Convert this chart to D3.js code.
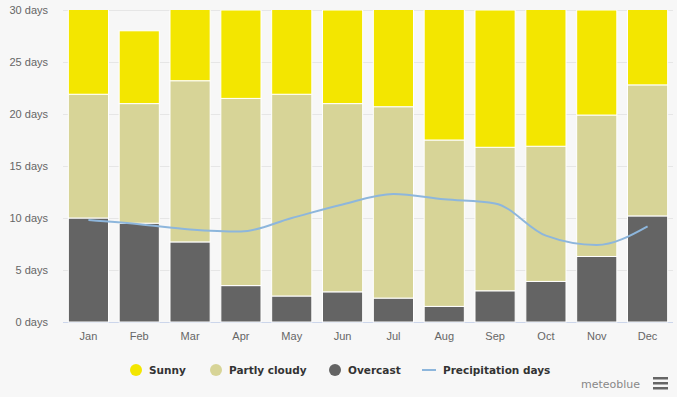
<!DOCTYPE html>
<html>
<head>
<meta charset="utf-8">
<script src="https://cdn.jsdelivr.net/npm/d3@7/dist/d3.min.js"></script>
<style>
  body { margin: 0; background: #f7f7f7; }
  svg { display: block; font-family: "DejaVu Sans", Verdana, sans-serif; }
</style>
</head>
<body>
<div id="chart"></div>
<script>
// Chart values
var months = ["Jan", "Feb", "Mar", "Apr", "May", "Jun", "Jul", "Aug", "Sep", "Oct", "Nov", "Dec"];
var overcast = [10.0, 9.5, 7.7, 3.5, 2.5, 2.9, 2.3, 1.5, 3.0, 3.9, 6.3, 10.2];
var partlyCloudy = [11.9, 11.5, 15.5, 18.0, 19.4, 18.1, 18.4, 16.0, 13.8, 13.0, 13.6, 12.6];
var sunny = [9.1, 7.0, 7.8, 8.5, 9.1, 9.0, 10.3, 13.5, 13.2, 14.1, 10.1, 8.2];
var precipitation = [9.8, 9.4, 8.9, 8.7, 10.0, 11.3, 12.3, 11.8, 11.4, 8.3, 7.4, 9.2];
var yTicks = [0, 5, 10, 15, 20, 25, 30];

var svgWidth = 677;
var svgHeight = 397;

var chartMargin = { top: 10, right: 4, bottom: 75, left: 63 };
var chartWidth = svgWidth - chartMargin.left - chartMargin.right;
var chartHeight = svgHeight - chartMargin.top - chartMargin.bottom;

var svg = d3.select("#chart")
  .append("svg")
  .attr("width", svgWidth)
  .attr("height", svgHeight);

svg.append("rect")
  .attr("width", svgWidth)
  .attr("height", svgHeight)
  .attr("fill", "#f7f7f7");

svg.append("defs").append("clipPath")
  .attr("id", "plotClip")
  .append("rect")
  .attr("width", chartWidth)
  .attr("height", chartHeight + 1);

var chartGroup = svg.append("g")
  .attr("transform", `translate(${chartMargin.left}, ${chartMargin.top})`);

var xScale = d3.scaleBand()
  .domain(months)
  .range([0, chartWidth])
  .paddingInner(0.21)
  .paddingOuter(0.105);

var yScale = d3.scaleLinear()
  .domain([0, 30])
  .range([chartHeight, 0]);

// gridlines
chartGroup.append("g")
  .selectAll("line")
  .data(yTicks)
  .enter()
  .append("line")
  .attr("x1", 0)
  .attr("x2", chartWidth)
  .attr("y1", d => Math.round(yScale(d)) + 0.5)
  .attr("y2", d => Math.round(yScale(d)) + 0.5)
  .attr("stroke", d => d === 0 ? "#ccd6eb" : "#e6e6e6")
  .attr("stroke-width", 1);

// y axis labels
var leftAxis = d3.axisLeft(yScale)
  .tickValues(yTicks)
  .tickSize(0)
  .tickPadding(15)
  .tickFormat(d => d + " days");
var yAxisG = chartGroup.append("g").call(leftAxis);
yAxisG.select(".domain").remove();
yAxisG.selectAll("text")
  .attr("fill", "#666")
  .style("font-size", "11px");

// x axis labels
var bottomAxis = d3.axisBottom(xScale).tickSize(0).tickPadding(10);
var xAxisG = chartGroup.append("g")
  .attr("transform", `translate(0, ${chartHeight})`)
  .call(bottomAxis);
xAxisG.select(".domain").remove();
xAxisG.selectAll("text")
  .attr("fill", "#666")
  .style("font-size", "11px");

// stacked bars
var table = months.map(function(m, i) {
  return { month: m, overcast: overcast[i], partly: partlyCloudy[i], sunny: sunny[i] };
});
var stack = d3.stack().keys(["overcast", "partly", "sunny"]);
var series = stack(table);
var colors = { overcast: "#646464", partly: "#d7d497", sunny: "#f3e600" };

var barsGroup = chartGroup.append("g").attr("clip-path", "url(#plotClip)");
barsGroup.selectAll("g")
  .data(series)
  .enter()
  .append("g")
  .attr("fill", d => colors[d.key])
  .selectAll("rect")
  .data(d => d)
  .enter()
  .append("rect")
  .attr("x", d => xScale(d.data.month))
  .attr("y", d => yScale(d[1]))
  .attr("width", xScale.bandwidth())
  .attr("height", d => yScale(d[0]) - yScale(d[1]))
  .attr("stroke", "#ffffff")
  .attr("stroke-width", 1);

// precipitation line
var line = d3.line()
  .x((d, i) => xScale(months[i]) + xScale.bandwidth() / 2)
  .y(d => yScale(d))
  .curve(d3.curveMonotoneX);

chartGroup.append("path")
  .datum(precipitation)
  .attr("d", line)
  .attr("fill", "none")
  .attr("stroke", "#8db6dc")
  .attr("stroke-width", 2);

// legend
var legendItems = [
  { name: "Sunny", color: colors.sunny, type: "circle", x: 129 },
  { name: "Partly cloudy", color: colors.partly, type: "circle", x: 209 },
  { name: "Overcast", color: colors.overcast, type: "circle", x: 328 },
  { name: "Precipitation days", color: "#8db6dc", type: "line", x: 422 }
];
var legend = svg.append("g").attr("transform", "translate(0, 370)");
var item = legend.selectAll("g")
  .data(legendItems)
  .enter()
  .append("g")
  .attr("transform", d => `translate(${d.x}, 0)`);
item.filter(d => d.type === "circle")
  .append("circle")
  .attr("cx", 7)
  .attr("cy", 0)
  .attr("r", 6)
  .attr("fill", d => d.color);
item.filter(d => d.type === "line")
  .append("line")
  .attr("x1", 0)
  .attr("x2", 14)
  .attr("y1", 0)
  .attr("y2", 0)
  .attr("stroke", d => d.color)
  .attr("stroke-width", 2);
item.append("text")
  .attr("x", d => d.type === "line" ? 21 : 20)
  .attr("y", 4)
  .attr("fill", "#333")
  .style("font-size", "10.5px")
  .style("font-weight", "bold")
  .text(d => d.name);

// credits and menu
svg.append("text")
  .attr("x", 640)
  .attr("y", 388)
  .attr("text-anchor", "end")
  .attr("fill", "#888")
  .style("font-size", "11px")
  .text("meteoblue");

svg.append("g")
  .selectAll("rect")
  .data([0, 1, 2])
  .enter()
  .append("rect")
  .attr("x", 653)
  .attr("y", d => 377 + d * 5)
  .attr("width", 15)
  .attr("height", 2.5)
  .attr("fill", "#666");
</script>
</body>
</html>
